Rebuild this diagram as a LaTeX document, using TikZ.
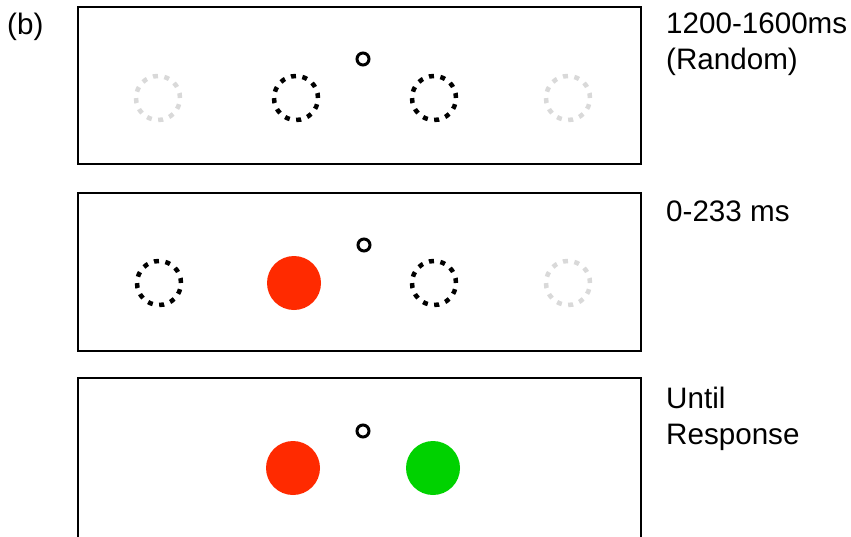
\documentclass[tikz,border=0pt]{standalone}
\usepackage{fontspec}
\setmainfont{Liberation Sans}
\definecolor{stimred}{HTML}{FF2A00}
\definecolor{stimgreen}{HTML}{00D200}
\definecolor{faint}{HTML}{D9D9D9}
\tikzset{
  panel/.style={draw=black, line width=1.6pt, fill=white},
  fix/.style={circle, draw=black, line width=3pt, minimum size=12pt, inner sep=0pt},
  ph/.style={circle, draw=black, line width=4.5pt, minimum size=44pt, inner sep=0pt, dash pattern=on 5pt off 6.52pt},
  phfaint/.style={ph, draw=faint},
  disc/.style={circle, minimum size=54pt, inner sep=0pt},
  lbl/.style={font=\fontsize{29.6}{35.5}\selectfont, align=left, anchor=north west, inner sep=0pt}
}
\begin{document}
\begin{tikzpicture}[x=1pt,y=-1pt]
\useasboundingbox (0,0) rectangle (851,536);
% panel 1
\node[panel, minimum width=563pt, minimum height=157pt, anchor=north west, inner sep=0pt] (p1) at (77,6) {};
\node[phfaint] (c11) at (158,98) {};
\node[ph] (c12) at (296,98) {};
\node[ph] (c13) at (434,98) {};
\node[phfaint] (c14) at (568,98) {};
\node[fix] (f1) at (363,59) {};
% panel 2
\node[panel, minimum width=563pt, minimum height=158pt, anchor=north west, inner sep=0pt] (p2) at (77,192) {};
\node[ph] (c21) at (159,283) {};
\node[disc, fill=stimred] (r2) at (294,283) {};
\node[ph] (c23) at (434,283) {};
\node[phfaint] (c24) at (568,283) {};
\node[fix] (f2) at (364,245) {};
% panel 3
\node[panel, minimum width=563pt, minimum height=160pt, anchor=north west, inner sep=0pt] (p3) at (77,377) {};
\node[disc, fill=stimred] (r3) at (293,468) {};
\node[disc, fill=stimgreen] (g3) at (433,468) {};
\node[fix] (f3) at (363,431) {};
% labels
\node[lbl] (lb) at (7,13) {(b)};
\node[lbl] (t1) at (666,13) {1200-1600ms\\(Random)};
\node[lbl] (t2) at (666,201) {0-233 ms};
\node[lbl] (t3) at (666,387) {Until\\Response};
\end{tikzpicture}
\end{document}
